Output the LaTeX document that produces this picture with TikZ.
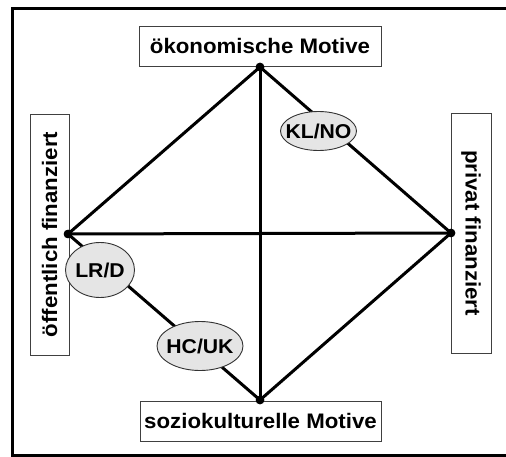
\documentclass[tikz,border=0pt]{standalone}
\usepackage{fontspec}
\setmainfont{Liberation Sans}
\usetikzlibrary{shapes.geometric}
\newcommand{\lbl}[1]{\scalebox{1.06}[1]{\fontsize{21}{23}\selectfont\bfseries #1}}
\newcommand{\clbl}[1]{\scalebox{1.06}[1]{\fontsize{20}{22}\selectfont\bfseries #1}}
\tikzset{
  labelbox/.style={draw=black!75, line width=0.9pt, fill=white, inner sep=0pt},
  dot/.style={circle, fill=black, inner sep=0pt, minimum size=8.5pt},
  conn/.style={line width=3pt, line cap=round},
  caseell/.style={ellipse, draw=black!80, line width=0.9pt, fill=black!10, inner sep=0pt},
  casetext/.style={inner sep=0pt},
  frameline/.style={line width=3pt}
}
\begin{document}
\begin{tikzpicture}[x=1pt,y=-1pt]
\useasboundingbox (0,0) rectangle (506,457);
\fill[white] (0,0) rectangle (506,457);
% frame
\draw[frameline] (506,9) -- (12.5,9) -- (12.5,455) -- (506,455);
% label boxes
\node[labelbox, minimum width=242pt, minimum height=40pt] (top) at (260,46) {\lbl{ökonomische Motive}};
\node[labelbox, minimum width=241pt, minimum height=40pt] (bottom) at (260.5,421) {\lbl{soziokulturelle Motive}};
\node[labelbox, rotate=90, minimum width=241pt, minimum height=39pt] (left) at (49.5,234.5) {\lbl{öffentlich finanziert}};
\node[labelbox, rotate=-90, minimum width=240pt, minimum height=40pt] (right) at (471,233) {\lbl{privat finanziert}};
% dots
\node[dot] (tdot) at (260,67) {};
\node[dot] (ldot) at (68,234) {};
\node[dot] (rdot) at (451,233) {};
\node[dot] (bdot) at (260,400) {};
% connectors
\draw[conn] (tdot.center) -- (ldot.center);
\draw[conn] (tdot.center) -- (rdot.center);
\draw[conn] (ldot.center) -- (bdot.center);
\draw[conn] (rdot.center) -- (bdot.center);
\draw[conn] (tdot.center) -- (bdot.center);
\draw[conn] (ldot.center) -- (rdot.center);
% redraw dots on top
\fill (tdot) circle (4.25pt);
\fill (ldot) circle (4.25pt);
\fill (rdot) circle (4.25pt);
\fill (bdot) circle (4.25pt);
% case ellipses
\node[caseell, minimum width=76pt, minimum height=39pt] (klno) at (318.5,131) {};
\node[casetext] (klnot) at (klno.center) {\clbl{KL/NO}};
\node[caseell, minimum width=69pt, minimum height=55pt] (lrd) at (100,270) {};
\node[casetext] (lrdt) at (lrd.center) {\clbl{LR/D}};
\node[caseell, minimum width=86pt, minimum height=49pt] (hcuk) at (200,346) {};
\node[casetext] (hcukt) at (hcuk.center) {\clbl{HC/UK}};
\end{tikzpicture}
\end{document}
